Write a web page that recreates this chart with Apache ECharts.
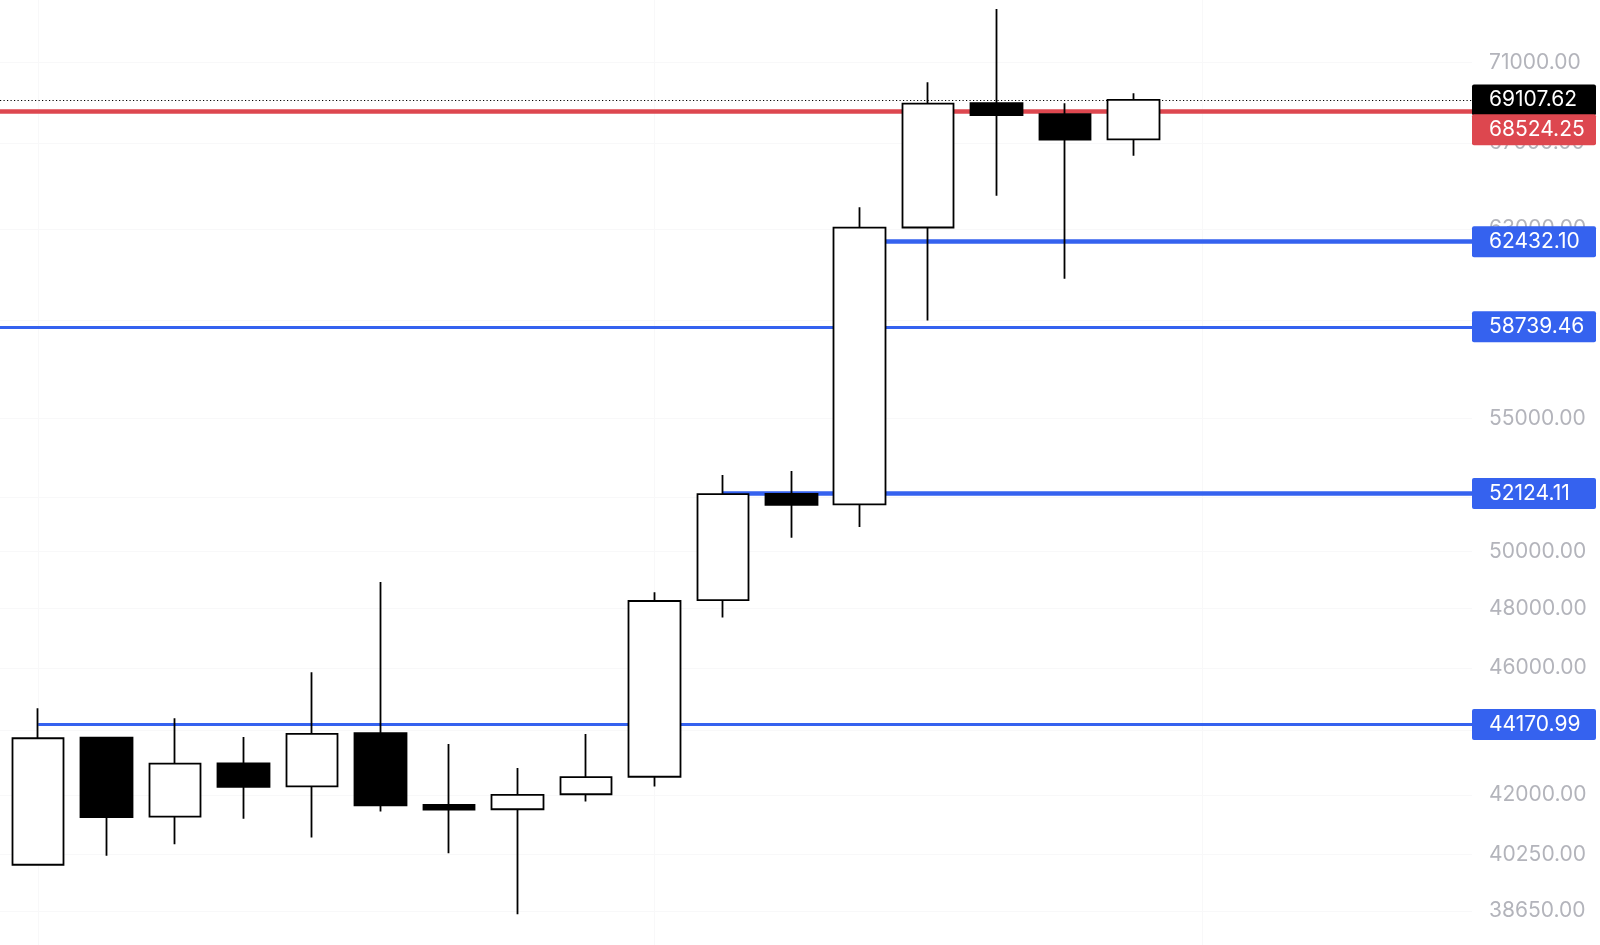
<!DOCTYPE html>
<html>
<head>
<meta charset="utf-8">
<script src="https://cdn.jsdelivr.net/npm/echarts@6/dist/echarts.min.js"></script>
<style>
html,body{margin:0;padding:0;background:#fff;}
#chart{width:1600px;height:945px;}
</style>
</head>
<body>
<div id="chart"></div>
<script>
// ---- data ----
const candleIndex = [0,1,2,3,4,5,6,7,8,9,10,11,12,13,14,15,16];
const opens  = [39950, 43757, 41350, 42960, 42260, 43900, 41700, 41570, 42020, 42550, 48290, 52110, 51720, 63070, 68950, 68400, 67180];
const closes = [43740, 41340, 42950, 42240, 43880, 41690, 41560, 42000, 42540, 48260, 52100, 51700, 63060, 68920, 68360, 67170, 69107.62];
const lows   = [39950, 40210, 40540, 41290, 40740, 41500, 40280, 38560, 41800, 42250, 47690, 50500, 50890, 59000, 64520, 60800, 66400];
const highs  = [44690, 43790, 44370, 43780, 45860, 48920, 43560, 42820, 43870, 48560, 52820, 52970, 63990, 69990, 73760, 68940, 69440];

// grid lines at all ticks; labels only where not hidden by price tags
const yGridValues  = [38650, 40250, 42000, 44000, 46000, 48000, 50000, 52000, 55000, 59000, 63000, 67000, 71000];
const yLabelValues = [38650, 40250, 42000, 46000, 48000, 50000, 55000, 63000, 67000, 71000];
const xGridValues  = [0, 9, 17];

const levelValues = [69107.62, 68524.25, 62432.10, 58739.46, 52124.11, 44170.99];
const levelStartIndex = [null, null, 12, null, 10, 0]; // null = from left edge

// ---- layout / styles ----
const xMin = -0.558, xMax = 20.943;
const yMin = 37717, yMax = 74236;
const levelStyles = [
  {color:'#000000', width:1, type:[1.2,2.3], bg:'#000000', offset:[0,0]},
  {color:'#dd474f', width:4.5, type:'solid', bg:'#dd474f', offset:[0,18]},
  {color:'#3562ef', width:4.5, type:'solid', bg:'#3562ef', offset:[0,0]},
  {color:'#3562ef', width:3, type:'solid', bg:'#3562ef', offset:[0,0]},
  {color:'#3562ef', width:4.5, type:'solid', bg:'#3562ef', offset:[0,0]},
  {color:'#3562ef', width:3, type:'solid', bg:'#3562ef', offset:[0,0]}
];

const candleData = candleIndex.map((x,i)=>[x, opens[i], closes[i], lows[i], highs[i]]);

const markData = levelValues.map((v,i)=>{
  const st = levelStyles[i];
  const common = {
    lineStyle:{color:st.color,width:st.width,type:st.type},
    label:{
      show:true, position:'end', distance:0, formatter: v.toFixed(2),
      color:'#ffffff', backgroundColor:st.bg, padding:[3,15,3,17], borderRadius:2,
      width:92, overflow:'none',
      fontFamily:'Inter', fontSize:21, lineHeight:25, offset:st.offset
    }
  };
  const xs = levelStartIndex[i] == null ? xMin : levelStartIndex[i];
  return [Object.assign({coord:[xs, v]}, common), Object.assign({coord:[xMax, v]}, common)];
});

const chart = echarts.init(document.getElementById('chart'), null, {renderer:'canvas'});
chart.setOption({
  animation:false,
  backgroundColor:'#ffffff',
  grid:{left:0,right:128,top:0,bottom:0,outerBoundsMode:'none'},
  xAxis:{
    type:'value', min:xMin, max:xMax,
    axisLine:{show:false}, axisLabel:{show:false},
    axisTick:{show:false, customValues:xGridValues},
    splitLine:{show:true, lineStyle:{color:'#f8f8f9', width:1}}
  },
  yAxis:{
    type:'log', logBase:10, min:yMin, max:yMax, position:'right',
    axisLine:{show:false},
    axisTick:{show:false, customValues:yGridValues},
    axisLabel:{
      customValues:yLabelValues, formatter:(v)=>Number(v).toFixed(2),
      color:'#b3b4bb', fontFamily:'Inter', fontSize:21, margin:17
    },
    splitLine:{show:true, lineStyle:{color:'#f8f8f9', width:1}}
  },
  series:[{
    type:'candlestick',
    z:3,
    barWidth:52,
    data:candleData,
    encode:{x:0, y:[1,2,3,4]},
    itemStyle:{color:'#ffffff', color0:'#000000', borderColor:'#000000', borderColor0:'#000000', borderWidth:1.8},
    markLine:{
      z:1, silent:true, symbol:['none','none'], animation:false,
      data:markData
    }
  }]
});
</script>
</body>
</html>
